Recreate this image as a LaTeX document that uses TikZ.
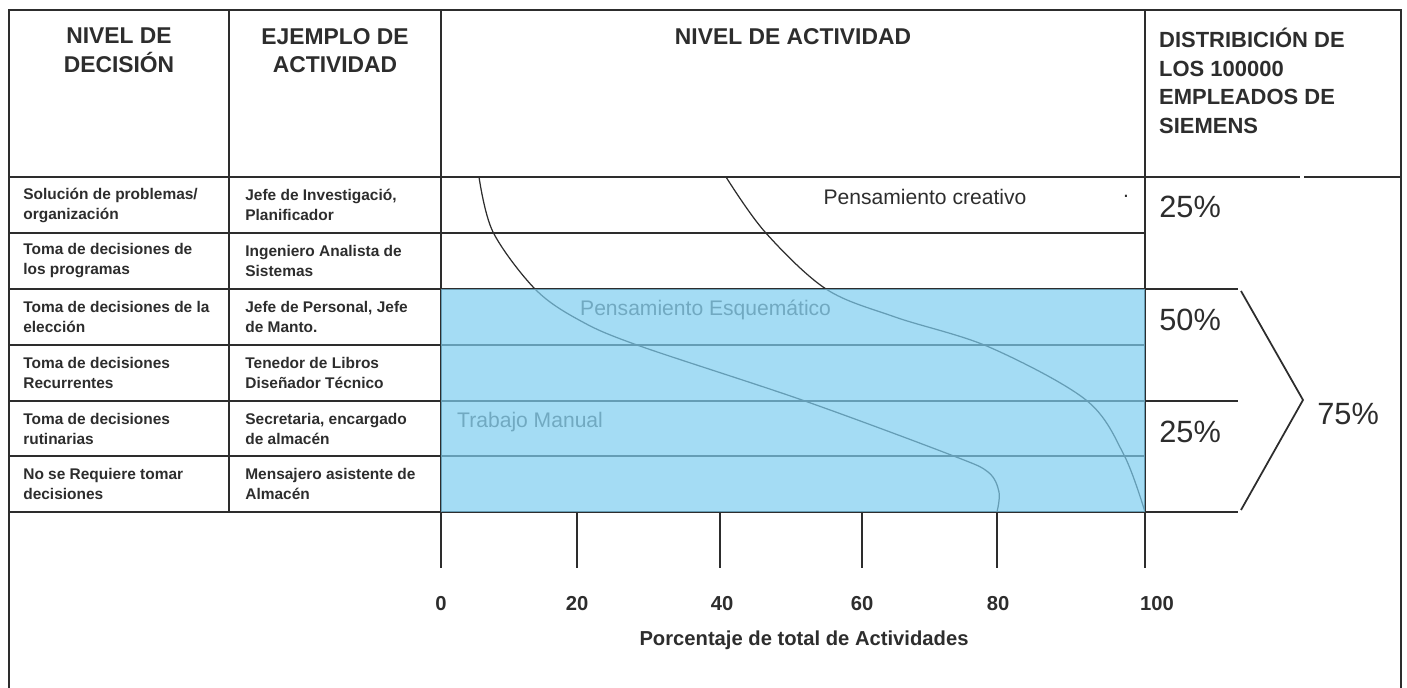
\documentclass[tikz,border=0pt]{standalone}
\usepackage{fontspec}
\setmainfont{Liberation Sans}
\usepackage{tikz}
\definecolor{celeste}{RGB}{125,205,239}
\definecolor{trazo}{RGB}{45,45,45}
\definecolor{tenue}{RGB}{85,85,85}

\begin{document}
\begin{tikzpicture}[x=0.02cm,y=-0.02cm,
  linea/.style={draw=trazo,line width=1pt},
  curva/.style={draw=trazo,line width=0.7pt},
  cabeza/.style={font=\bfseries\fontsize{13}{16}\selectfont,text=trazo,align=center,anchor=north},
  celda/.style={font=\bfseries\fontsize{8.8}{11.4}\selectfont,text=trazo,align=left,anchor=west,inner sep=0pt},
  pct/.style={font=\fontsize{17.5}{20}\selectfont,text=trazo,anchor=west,inner sep=0pt},
  marca/.style={font=\bfseries\fontsize{11.5}{13}\selectfont,text=trazo}]

  \useasboundingbox (0,0) rectangle (1407,688);

  \draw[linea] (9,688) -- (9,10) -- (1401,10) -- (1401,688);
  \draw[linea] (9,177) -- (1300,177);
  \draw[linea] (1304,177) -- (1401,177);
  \draw[linea] (229,10) -- (229,512);
  \draw[linea] (441,10) -- (441,568);
  \draw[linea] (1145,10) -- (1145,568);

  \draw[linea] (9,233) -- (1145,233);
  \draw[linea] (9,289) -- (1238,289);
  \draw[linea] (9,345) -- (1145,345);
  \draw[linea] (9,401) -- (1238,401);
  \draw[linea] (9,456) -- (1145,456);
  \draw[linea] (9,512) -- (1238,512);

  \draw[linea] (577,512) -- (577,568);
  \draw[linea] (720,512) -- (720,568);
  \draw[linea] (862,512) -- (862,568);
  \draw[linea] (997,512) -- (997,568);

  \draw[linea] (1241,291) -- (1303,400) -- (1241,510);

  \node[cabeza] (nivdec) at (119,22) {NIVEL DE\\DECISIÓN};
  \node[cabeza] (ejact) at (335,22) {EJEMPLO DE\\ACTIVIDAD};
  \node[cabeza] (nivact) at (793,22) {NIVEL DE ACTIVIDAD};
  \node[cabeza,font=\bfseries\fontsize{12.5}{16.3}\selectfont,align=left,anchor=north west] (distrib)
    at (1153,22) {DISTRIBICIÓN DE\\LOS 100000\\EMPLEADOS DE\\SIEMENS};

  \node[celda] (dec1) at (23,205) {Solución de problemas/\\organización};
  \node[celda] (dec2) at (23,261) {Toma de decisiones de\\los programas};
  \node[celda] (dec3) at (23,317) {Toma de decisiones de la\\elección};
  \node[celda] (dec4) at (23,373) {Toma de decisiones\\Recurrentes};
  \node[celda] (dec5) at (23,429) {Toma de decisiones\\rutinarias};
  \node[celda] (dec6) at (23,484) {No se Requiere tomar\\decisiones};

  \node[celda] (ej1) at (245,205) {Jefe de Investigació,\\Planificador};
  \node[celda] (ej2) at (245,261) {Ingeniero Analista de\\Sistemas};
  \node[celda] (ej3) at (245,317) {Jefe de Personal, Jefe\\de Manto.};
  \node[celda] (ej4) at (245,373) {Tenedor de Libros\\Diseñador Técnico};
  \node[celda] (ej5) at (245,429) {Secretaria, encargado\\de almacén};
  \node[celda] (ej6) at (245,484) {Mensajero asistente de\\Almacén};

  \draw[curva] plot[smooth,tension=0.55] coordinates {(479,177) (493,232) (535,289)
    (579,320) (637,345) (802,400) (951,455) (988,472) (999,492) (997,512)};
  \draw[curva] plot[smooth,tension=0.55] coordinates {(726,177) (765,232) (826,289)
    (895,317) (989,347) (1086,400) (1124,455) (1145,512)};

  \node[font=\fontsize{12}{14}\selectfont,text=trazo] (creativo) at (925,197) {Pensamiento creativo};
  \node[font=\fontsize{12}{14}\selectfont,text=trazo] (punto) at (1126,196) {.};
  \node[font=\fontsize{12}{14}\selectfont,text=tenue,anchor=west] (esquem) at (574,310)
    {Pensamiento Esquemático};
  \node[font=\fontsize{12}{14}\selectfont,text=tenue,anchor=west] (manual) at (451,422)
    {Trabajo Manual};

  \fill[celeste,fill opacity=0.7] (441,289) rectangle (1145,512);

  \node[pct] (p1) at (1159,207) {25\%};
  \node[pct] (p2) at (1159,320) {50\%};
  \node[pct] (p3) at (1159,432) {25\%};
  \node[pct] (p4) at (1317,414) {75\%};

  \node[marca] (t0) at (441,604) {0};
  \node[marca] (t20) at (577,604) {20};
  \node[marca] (t40) at (722,604) {40};
  \node[marca] (t60) at (862,604) {60};
  \node[marca] (t80) at (998,604) {80};
  \node[marca] (t100) at (1157,604) {100};
  \node[font=\bfseries\fontsize{11.5}{14}\selectfont,text=trazo] (eje) at (804,640)
    {Porcentaje de total de Actividades};
\end{tikzpicture}
\end{document}
